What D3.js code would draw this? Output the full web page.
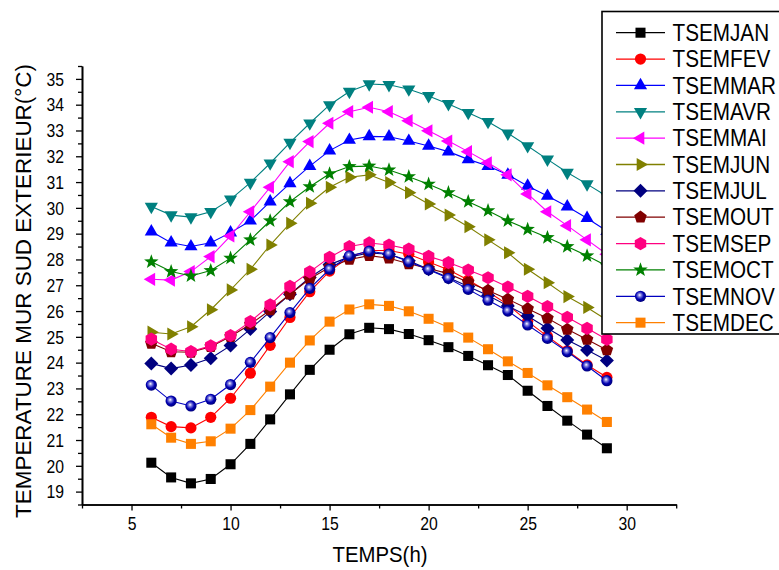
<!DOCTYPE html>
<html><head><meta charset="utf-8">
<script src="https://cdn.jsdelivr.net/npm/d3@7"></script>
<style>
html,body{margin:0;padding:0;background:#fff;}
svg{display:block;font-family:"Liberation Sans",Arial,Helvetica,sans-serif;}
</style></head>
<body>
<script>
const hours = [6,7,8,9,10,11,12,13,14,15,16,17,18,19,20,21,22,23,24,25,26,27,28,29];
const seriesNames = ["TSEMJAN","TSEMFEV","TSEMMAR","TSEMAVR","TSEMMAI","TSEMJUN","TSEMJUL","TSEMOUT","TSEMSEP","TSEMOCT","TSEMNOV","TSEMDEC"];
const jan = [20.12,19.55,19.32,19.49,20.06,20.85,21.80,22.77,23.72,24.50,25.10,25.35,25.30,25.11,24.87,24.60,24.26,23.90,23.52,22.91,22.32,21.75,21.21,20.68];
const fev = [21.88,21.52,21.47,21.88,22.62,23.59,24.67,25.75,26.75,27.55,28.10,28.35,28.35,28.20,27.90,27.60,27.20,26.75,26.25,25.60,25.02,24.46,23.91,23.43];
const mar = [29.08,28.65,28.50,28.65,29.04,29.50,30.24,30.95,31.62,32.22,32.63,32.77,32.76,32.59,32.40,32.18,31.88,31.62,31.28,30.85,30.46,30.05,29.60,29.10];
const avr = [30.05,29.72,29.64,29.85,30.33,30.98,31.73,32.53,33.28,33.99,34.51,34.80,34.77,34.60,34.34,34.03,33.69,33.34,32.89,32.40,31.88,31.37,30.92,30.45];
const mai = [27.23,27.20,27.53,28.11,28.91,29.85,30.80,31.79,32.57,33.28,33.73,33.90,33.73,33.38,32.99,32.59,32.18,31.75,31.28,30.54,29.85,29.31,28.76,28.20];
const jun = [25.18,25.11,25.39,26.05,26.82,27.62,28.56,29.40,30.18,30.80,31.19,31.28,30.98,30.59,30.15,29.72,29.27,28.76,28.26,27.62,27.10,26.56,26.14,25.65];
const jul = [23.97,23.77,23.91,24.17,24.66,25.30,25.98,26.65,27.30,27.80,28.10,28.25,28.20,27.95,27.62,27.30,26.95,26.60,26.20,25.81,25.33,24.88,24.49,24.08];
const out = [24.75,24.42,24.40,24.62,25.01,25.49,26.04,26.65,27.25,27.70,28.00,28.15,28.05,27.83,27.65,27.45,27.12,26.80,26.46,26.09,25.72,25.29,24.90,24.49];
const sep = [24.91,24.52,24.43,24.65,25.05,25.59,26.24,26.96,27.52,28.08,28.50,28.64,28.56,28.40,28.12,27.88,27.59,27.29,26.93,26.57,26.17,25.76,25.33,24.90];
const oct = [27.91,27.53,27.36,27.57,28.05,28.76,29.50,30.24,30.82,31.32,31.60,31.62,31.47,31.21,30.92,30.59,30.24,29.89,29.50,29.17,28.85,28.50,28.14,27.75];
const nov = [23.13,22.51,22.32,22.58,23.15,24.01,24.97,25.94,26.88,27.62,28.14,28.32,28.21,27.91,27.60,27.27,26.84,26.42,26.00,25.46,24.94,24.42,23.87,23.30];
const dec = [21.61,21.09,20.85,20.95,21.44,22.16,23.07,24.00,24.86,25.59,26.06,26.26,26.20,25.99,25.70,25.37,24.97,24.52,24.05,23.60,23.12,22.66,22.18,21.70];
const xTickLabels = ["5","10","15","20","25","30"];
const yTickLabels = ["19","20","21","22","23","24","25","26","27","28","29","30","31","32","33","34","35"];
const xTitle = "TEMPS(h)";
const yTitle = "TEMPERATURE MUR SUD EXTERIEUR(\u00B0C)";

const allValues = [jan,fev,mar,avr,mai,jun,jul,out,sep,oct,nov,dec];
const colors = ["#000000","#ff0000","#0000ff","#008080","#ff00ff","#808000","#000080","#800000","#ff0080","#008000","#0000c0","#ff8000"];
const lineColors = ["#000000","#ff0000","#0000ff","#008080","#ff00ff","#808000","#000080","#800000","#ff0080","#008000","#0000c0","#ff8000"];
const shapes = ["square","circle","up","down","left","right","diamond","pentagon","hexagon","star","ball","square"];

const W = 779, H = 570;
const svg = d3.select("body").append("svg").attr("width", W).attr("height", H);
const defs = svg.append("defs");
const grad = defs.append("radialGradient").attr("id","ball").attr("cx","0.45").attr("cy","0.45").attr("r","0.6").attr("fx","0.42").attr("fy","0.38");
grad.append("stop").attr("offset","0").attr("stop-color","#ffffff");
grad.append("stop").attr("offset","0.25").attr("stop-color","#8080e0");
grad.append("stop").attr("offset","0.6").attr("stop-color","#0000b0");
grad.append("stop").attr("offset","1").attr("stop-color","#000070");

const pLeft = 82, pRight = 676.2, pTop = 66, pBottom = 504.5;
const x = d3.scaleLinear().domain([2.5, 32.5]).range([pLeft, pRight]);
const y = d3.scaleLinear().domain([18.5, 35.5]).range([pBottom, pTop]);

function poly(n, r, start) {
  const pts = [];
  for (let i = 0; i < n; i++) {
    const a = (start + i * 360 / n) * Math.PI / 180;
    pts.push([r * Math.cos(a), r * Math.sin(a)]);
  }
  return "M" + pts.map(p => p[0].toFixed(2) + "," + p[1].toFixed(2)).join("L") + "Z";
}
function starPath(ro, ri) {
  const pts = [];
  for (let i = 0; i < 10; i++) {
    const r = i % 2 === 0 ? ro : ri;
    const a = (-90 + i * 36) * Math.PI / 180;
    pts.push([r * Math.cos(a), r * Math.sin(a)]);
  }
  return "M" + pts.map(p => p[0].toFixed(2) + "," + p[1].toFixed(2)).join("L") + "Z";
}
const shapePaths = {
  square: poly(4, 7.1, 45),
  up: poly(3, 7.6, -90),
  down: poly(3, 7.6, 90),
  left: poly(3, 7.6, 180),
  right: poly(3, 7.6, 0),
  diamond: poly(4, 7.0, 0),
  pentagon: poly(5, 6.6, -90),
  hexagon: poly(6, 6.6, -90),
  star: starPath(7.6, 3.1)
};
function drawMarker(g, shape, color, cx, cy) {
  if (shape === "circle") {
    g.append("circle").attr("cx", cx).attr("cy", cy).attr("r", 5.6).attr("fill", color);
  } else if (shape === "ball") {
    g.append("circle").attr("cx", cx).attr("cy", cy).attr("r", 5.6).attr("fill", "url(#ball)");
  } else {
    g.append("path").attr("d", shapePaths[shape]).attr("transform", `translate(${cx},${cy})`).attr("fill", color);
  }
}

// axes
const xMajor = xTickLabels.map(Number);
const xAxis = d3.axisBottom(x).tickValues(xMajor).tickSize(6).tickSizeOuter(0).tickFormat((d,i) => xTickLabels[i]);
const xMinor = d3.axisBottom(x).tickValues(d3.range(2.5, 32.51, 5)).tickSize(4).tickSizeOuter(0).tickFormat("");
const yMajor = yTickLabels.map(Number);
const yAxis = d3.axisLeft(y).tickValues(yMajor).tickSize(6).tickSizeOuter(0).tickFormat((d,i) => yTickLabels[i]);
const yMinor = d3.axisLeft(y).tickValues(d3.range(18.5, 35.51, 1)).tickSize(4).tickSizeOuter(0).tickFormat("");

function styleAxis(g) {
  g.selectAll("path.domain").attr("stroke", "#000").attr("stroke-width", 1.6);
  g.selectAll(".tick line").attr("stroke", "#000").attr("stroke-width", 1.3);
}
const gxm = svg.append("g").attr("transform", `translate(0,${pBottom})`).call(xMinor); styleAxis(gxm);
const gx = svg.append("g").attr("transform", `translate(0,${pBottom})`).call(xAxis); styleAxis(gx);
gx.selectAll(".tick text").attr("font-size", 17.5).attr("fill", "#000").attr("y", 13).attr("dy", "0.71em")
  .attr("font-family", "'Liberation Sans', Arial, sans-serif")
  .attr("transform", "scale(0.9,1)");
const gym = svg.append("g").attr("transform", `translate(${pLeft},0)`).call(yMinor); styleAxis(gym);
const gy = svg.append("g").attr("transform", `translate(${pLeft},0)`).call(yAxis); styleAxis(gy);
gy.selectAll(".tick text").attr("font-size", 17.5).attr("fill", "#000").attr("x", -20).attr("dy", "0.36em")
  .attr("font-family", "'Liberation Sans', Arial, sans-serif")
  .attr("transform", "scale(0.9,1)");

// titles
svg.append("text").attr("x", 380).attr("y", 562).attr("text-anchor", "middle")
  .attr("font-size", 22).attr("fill", "#000").attr("textLength", 95).attr("lengthAdjust", "spacingAndGlyphs").text(xTitle);
svg.append("text").attr("transform", "translate(31,291) rotate(-90)").attr("text-anchor", "middle")
  .attr("font-size", 22).attr("fill", "#000").attr("textLength", 454).attr("lengthAdjust", "spacingAndGlyphs").text(yTitle);

// series
allValues.forEach((vals, si) => {
  const g = svg.append("g");
  const line = d3.line().x((d, i) => x(hours[i])).y(d => y(d));
  g.append("path").datum(vals).attr("d", line).attr("fill", "none").attr("stroke", lineColors[si]).attr("stroke-width", 1.1);
  vals.forEach((v, i) => drawMarker(g, shapes[si], colors[si], x(hours[i]), y(v)));
});

// legend
const lg = svg.append("g");
lg.append("rect").attr("x", 602).attr("y", 11.5).attr("width", 200).attr("height", 322.5)
  .attr("fill", "#fff").attr("stroke", "#000").attr("stroke-width", 1.6);
seriesNames.forEach((name, i) => {
  const cy = 32.7 + i * 26.36;
  lg.append("line").attr("x1", 616).attr("x2", 665).attr("y1", cy).attr("y2", cy).attr("stroke", lineColors[i]).attr("stroke-width", 1.3);
  drawMarker(lg, shapes[i], colors[i], 640.5, cy);
  lg.append("text").attr("transform", `translate(672.5,${cy + 8.2}) scale(0.9,1)`)
    .attr("font-size", 23).attr("fill", "#000").text(name);
});
</script>
</body></html>
